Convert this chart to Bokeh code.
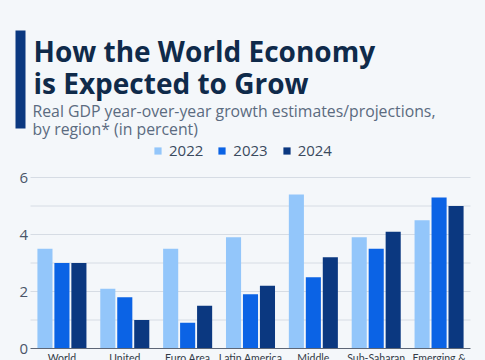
from bokeh.plotting import figure
from bokeh.models import (ColumnDataSource, Range1d, Legend, LegendItem, Label, BoxAnnotation)
from bokeh.transform import dodge
from bokeh.embed import file_html
from bokeh.resources import INLINE

regions = ["World", "United", "Euro Area", "Latin America", "Middle", "Sub-Saharan", "Emerging &"]
years = ["2022", "2023", "2024"]
g2022 = [3.5, 2.1, 3.5, 3.9, 5.4, 3.9, 4.5]
g2023 = [3.0, 1.8, 0.9, 1.9, 2.5, 3.5, 5.3]
g2024 = [3.0, 1.0, 1.5, 2.2, 3.2, 4.1, 5.0]
y_ticks = [0, 2, 4, 6]
grid_ticks = [1, 2, 3, 4, 5, 6]
colors = ["#93c6fa", "#0b63e5", "#0b3880"]

title_lines = ["How the World Economy", "is Expected to Grow"]
subtitle_lines = ["Real GDP year-over-year growth estimates/projections,", "by region* (in percent)"]

BG = "#f4f7fa"
FONT = "Open Sans"
W, H = 485, 360

# Canvas-wide frame: plot area of the bars runs from px 30 to 470 (x) and the
# value axis puts 0 at px 348 and 6 at px 177 (from the top).
PX_LEFT, PX_RIGHT = 30, 470
PX_ZERO, PX_SIX = 348, 177
n = len(regions)
sx = (PX_RIGHT - PX_LEFT) / n
sy = (PX_ZERO - PX_SIX) / 6.0


def X(px):
    return (px - PX_LEFT) / sx


def Y(py):
    return (PX_ZERO - py) / sy


centers = [i + 0.5 for i in range(n)]
src = ColumnDataSource(dict(x=centers, region=regions, y2022=g2022, y2023=g2023, y2024=g2024))

p = figure(
    x_range=Range1d(X(0), X(W)),
    y_range=Range1d(Y(H), Y(0)),
    width=W, height=H,
    output_backend="svg", toolbar_location=None,
    min_border=0, min_border_left=0, min_border_right=0, min_border_top=0, min_border_bottom=0,
    background_fill_color=BG, border_fill_color=BG, outline_line_color=None,
    x_axis_type=None, y_axis_type=None,
)
p.grid.visible = False

# horizontal grid lines
p.segment(x0=[0] * len(grid_ticks), x1=[n] * len(grid_ticks), y0=grid_ticks, y1=grid_ticks,
          line_color="#d6dce4", line_width=1)

offsets = [-0.27, 0.0, 0.27]
renderers = []
for yr, off, col in zip(years, offsets, colors):
    r = p.vbar(x=dodge("x", off), top="y" + yr, width=0.24,
               source=src, fill_color=col, line_color=None)
    renderers.append(r)

# baseline (category axis line)
p.segment(x0=[0], x1=[n], y0=[0], y1=[0], line_color="#5d6676", line_width=1)

# value tick labels
p.text(x=[X(27.5)] * len(y_ticks), y=y_ticks, text=[str(t) for t in y_ticks],
       text_align="right", text_baseline="middle", text_font={"value": FONT},
       text_font_size="15px", text_color="#4a5568")

# category labels, kept just inside the bottom edge
p.text(x=centers, y=[Y(357.3)] * n, text=regions, text_align="center", text_baseline="alphabetic",
       text_font={"value": "Lato"}, text_font_size="10.5px", text_color="#333b47")

legend = Legend(
    items=[LegendItem(label=yr, renderers=[r]) for yr, r in zip(years, renderers)],
    orientation="horizontal", location=(153, H - 160),
    background_fill_alpha=0, border_line_color=None,
    label_text_font=FONT, label_text_font_size="15px", label_text_color="#3a4a5e",
    glyph_width=9, glyph_height=9, label_standoff=7, spacing=14,
    padding=0, margin=0,
)
p.add_layout(legend, "center")

# header: accent bar, title and subtitle
p.add_layout(BoxAnnotation(left=X(15), right=X(25), bottom=Y(128), top=Y(30),
                           fill_color="#0b3880", fill_alpha=1, line_color=None))
for txt, py in zip(title_lines, [50, 82]):
    p.add_layout(Label(x=X(33), y=Y(py), text=txt, text_font=FONT, text_font_size="28px",
                       text_font_style="bold", text_color="#0f2a4a", text_baseline="alphabetic"))
for txt, py in zip(subtitle_lines, [110, 128]):
    p.add_layout(Label(x=X(32), y=Y(py), text=txt, text_font=FONT, text_font_size="15.8px",
                       text_color="#5b6b80", text_baseline="alphabetic"))

html = file_html(p, INLINE)
html = html.replace("</head>", f"<style>html, body {{ background: {BG}; }}</style></head>", 1)
open("out.html", "w").write(html)
